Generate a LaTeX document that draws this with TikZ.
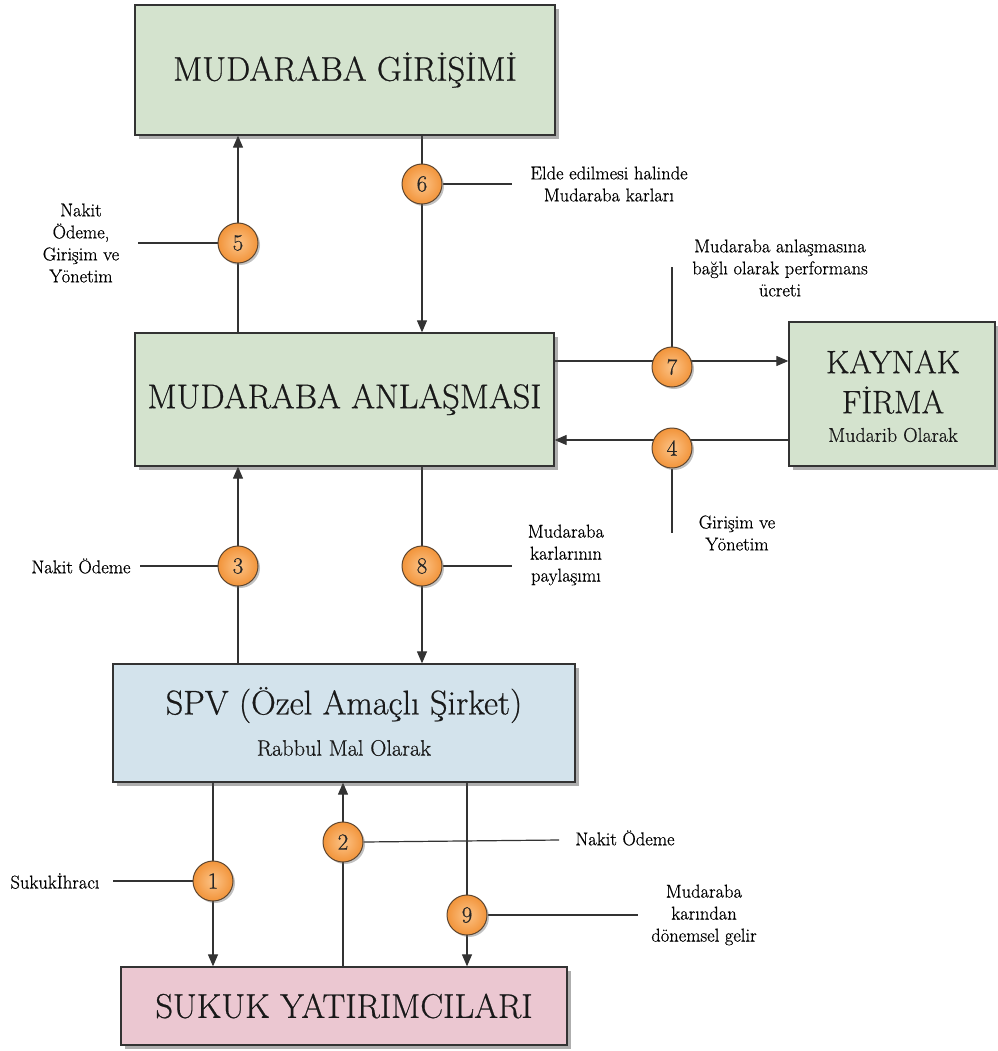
\documentclass[tikz,border=0pt]{standalone}
\usepackage{fontspec}
\setmainfont{Latin Modern Roman}[FakeBold=0.6]
\usetikzlibrary{arrows.meta,shadows,backgrounds}
\definecolor{linegray}{HTML}{333333}
\definecolor{greenbox}{HTML}{D4E3CE}
\definecolor{bluebox}{HTML}{D3E3EC}
\definecolor{pinkbox}{HTML}{EBC7D1}
\definecolor{orangein}{HTML}{FCC387}
\definecolor{orangeout}{HTML}{F2943A}
\definecolor{circleedge}{HTML}{5E4630}
\tikzset{
  box/.style={rectangle, draw=linegray, line width=1.3pt, inner sep=0pt,
    drop shadow={shadow xshift=4pt, shadow yshift=-4pt, opacity=0.45, fill=black!70}},
  titletext/.style={font=\fontsize{34.3}{38}\selectfont, text=black!90},
  num/.style={circle, draw=circleedge, line width=1pt, minimum size=40pt, inner sep=0pt,
    inner color=orangein, outer color=orangeout,
    font=\fontsize{23}{23}\selectfont, text=black!85,
    drop shadow={shadow xshift=2pt, shadow yshift=-2pt, opacity=0.4, fill=black!60}},
  lbl/.style={font=\fontsize{18.5}{22}\selectfont, align=center, text=black, inner sep=0pt},
  conn/.style={draw=linegray, line width=1.2pt},
  arr/.style={conn, -{Triangle[length=12pt,width=10pt]}},
}
\begin{document}
\begin{tikzpicture}[x=1pt,y=-1pt]
\useasboundingbox (0,0) rectangle (997,1051);

% boxes
\node[box, fill=greenbox, minimum width=420pt, minimum height=130pt, titletext] (top) at (345,70) {MUDARABA GİRİŞİMİ};
\node[box, fill=greenbox, minimum width=419pt, minimum height=133pt, titletext] (anl) at (344.5,399.5) {MUDARABA ANLAŞMASI};
\node[box, fill=greenbox, minimum width=206pt, minimum height=144pt] (kay) at (892,394) {};
\node[font=\fontsize{32.4}{40}\selectfont, align=center, text=black!90, inner sep=0pt] (kayt) at (893,382) {KAYNAK\\FİRMA};
\node[font=\fontsize{20}{24}\selectfont, text=black!90, inner sep=0pt] (kays) at (893,435) {Mudarib Olarak};
\node[box, fill=bluebox, minimum width=462pt, minimum height=118pt] (spv) at (344,723) {};
\node[titletext, inner sep=0pt] (spvt) at (344,705) {SPV (Özel Amaçlı Şirket)};
\node[font=\fontsize{22.3}{26}\selectfont, text=black!90, inner sep=0pt] (spvs) at (344,748) {Rabbul Mal Olarak};
\node[box, fill=pinkbox, minimum width=446pt, minimum height=78pt, titletext] (suk) at (344,1006) {SUKUK YATIRIMCILARI};

% numbered circles
\node[num] (c5) at (238,243) {5};
\node[num] (c6) at (422,184) {6};
\node[num] (c7) at (672,367) {7};
\node[num] (c4) at (672,448) {4};
\node[num] (c3) at (238,566) {3};
\node[num] (c8) at (422,566) {8};
\node[num] (c2) at (343,842) {2};
\node[num] (c1) at (213,881) {1};
\node[num] (c9) at (467,915) {9};

% helper coordinates
\coordinate (a7) at (672,361);
\coordinate (a4) at (672,440);
\coordinate (l5) at (138,243);
\coordinate (l6) at (512,184);
\coordinate (l7) at (672,267);
\coordinate (l4) at (672,533);
\coordinate (l3) at (140,566);
\coordinate (l8) at (512,566);
\coordinate (l1) at (113,881);
\coordinate (l2) at (559,840);
\coordinate (l9) at (638,915);

% labels
\node[lbl] (t5) at (81,243) {Nakit\\Ödeme,\\Girişim ve\\Yönetim};
\node[lbl] (t6) at (609,184) {Elde edilmesi halinde\\Mudaraba karları};
\node[lbl] (t7) at (780,268) {Mudaraba anlaşmasına\\bağlı olarak performans\\ücreti};
\node[lbl] (t4) at (737,533) {Girişim ve\\Yönetim};
\node[lbl] (t3) at (81,566) {Nakit Ödeme};
\node[lbl] (t8) at (566,555) {Mudaraba\\karlarının\\paylaşımı};
\node[lbl] (t2) at (625,838) {Nakit Ödeme};
\node[lbl] (t1) at (55,881) {Sukukİhracı};
\node[lbl] (t9) at (704,915) {Mudaraba\\karından\\dönemsel gelir};

\begin{scope}[on background layer]
  \fill[white] (0,0) rectangle (997,1051);
  % main flows
  \draw[arr] (anl.north -| c5) -- (top.south -| c5);
  \draw[arr] (top.south -| c6) -- (anl.north -| c6);
  \draw[arr] (anl.east |- a7) -- (kay.west |- a7);
  \draw[arr] (kay.west |- a4) -- (anl.east |- a4);
  \draw[arr] (spv.north -| c3) -- (anl.south -| c3);
  \draw[arr] (anl.south -| c8) -- (spv.north -| c8);
  \draw[arr] (spv.south -| c1) -- (suk.north -| c1);
  \draw[arr] (suk.north -| c2) -- (spv.south -| c2);
  \draw[arr] (spv.south -| c9) -- (suk.north -| c9);
  % leader lines
  \draw[conn] (c5.west) -- (l5);
  \draw[conn] (c6.east) -- (l6);
  \draw[conn] (c7.north) -- (l7);
  \draw[conn] (c4.south) -- (l4);
  \draw[conn] (c3.west) -- (l3);
  \draw[conn] (c8.east) -- (l8);
  \draw[conn] (c1.west) -- (l1);
  \draw[conn] (c2.east) -- (l2);
  \draw[conn] (c9.east) -- (l9);
\end{scope}
\end{tikzpicture}
\end{document}
